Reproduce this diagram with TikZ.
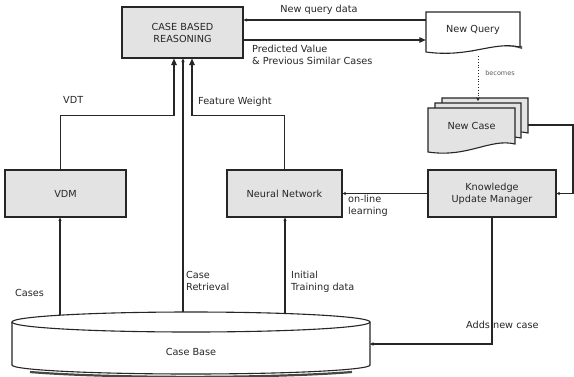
\documentclass[tikz,border=0pt]{standalone}
\usepackage{fontspec}
\setmainfont{DejaVu Sans}
\usetikzlibrary{arrows.meta,calc}
\definecolor{boxfill}{HTML}{E3E3E3}
\definecolor{ink}{HTML}{262626}
\begin{document}
\begin{tikzpicture}[x=1pt,y=-1pt,
  every node/.style={font=\fontsize{9.7}{12}\selectfont, text=ink},
  box/.style={draw=ink, line width=1.1pt, fill=boxfill, align=center, inner sep=0pt},
  ghost/.style={inner sep=0pt, align=center},
  link/.style={draw=ink, line width=1.1pt},
  bighead/.style={link, -{Triangle[length=6.5pt,width=5.5pt]}},
  smallhead/.style={link, -{Stealth[length=3.5pt,width=3.5pt]}},
  becomes/.style={draw=ink, line width=0.8pt, dotted, -{Stealth[length=3.5pt,width=3.5pt]}},
  lbl/.style={align=left, anchor=north west, inner sep=0pt},
]
\useasboundingbox (0,0) rectangle (574,376);
\fill[white] (0,0) rectangle (574,376);

% ---- process boxes
\node[box, minimum width=121pt, minimum height=51pt] (cbr) at (182.5,32.5) {CASE BASED\\REASONING};
\node[box, minimum width=121pt, minimum height=47pt] (vdm) at (65.5,193.5) {VDM};
\node[box, minimum width=115pt, minimum height=47pt] (nn) at (284.5,193.5) {Neural Network};
\node[box, minimum width=128pt, minimum height=47pt] (kum) at (492,193.5) {Knowledge\\Update Manager};

% ---- new query document with its shadow
\fill[ink!75] (470,52) .. controls (493,44) and (510,45) .. (522,49) -- (522,46) -- (500,44) -- cycle;
\filldraw[draw=ink, line width=1.1pt, fill=white] (426,12) -- (520,12) -- (520,47)
  .. controls (493,41) and (470,58) .. (426,52) -- cycle;
\node[ghost, minimum width=94pt, minimum height=41pt, text depth=7pt] (nq) at (473,32.5) {New Query};

% ---- new case document stack
\coordinate (ncback) at (485,98);
\filldraw[draw=ink, line width=1.1pt, fill=boxfill] (442,98) -- (528,98) -- (528,133)
  .. controls (505,128) and (485,140) .. (460,138) -- (442,138) -- cycle;
\filldraw[draw=ink, line width=1.1pt, fill=boxfill] (435,103) -- (521,103) -- (521,138)
  .. controls (498,133) and (478,146) .. (455,143) -- (435,143) -- cycle;
\filldraw[draw=ink, line width=1.1pt, fill=boxfill] (428,108) -- (515,108) -- (515,144)
  .. controls (490,138) and (468,158) .. (428,152) -- cycle;
\node[ghost, minimum width=87pt, minimum height=40pt, text depth=5pt] (nc) at (471.5,128) {New Case};

% ---- case base cylinder
\draw[ink!85, line width=2.2pt] (30,372) .. controls (110,378.5) and (270,378.5) .. (352,372);
\filldraw[draw=ink, line width=1.1pt, fill=white]
  (12,322) -- (12,365) arc[start angle=180, end angle=0, x radius=179, y radius=9] -- (370,322);
\draw[ink, line width=1.1pt] (191,322) ellipse[x radius=179, y radius=10];
\node[ghost, minimum width=358pt, minimum height=30pt] (cb) at (191,352) {Case Base};
\coordinate (cbA) at (60,315);
\coordinate (cbB) at (183,312);
\coordinate (cbC) at (285,313.5);
\coordinate (cbR) at (370,344);
\coordinate (bend) at (573,125);

% ---- connectors
\draw[smallhead] ([yshift=12.5pt]nq.west) -- ([yshift=12.5pt]nq.west -| cbr.east);
\draw[bighead] ([yshift=-7.5pt]cbr.east) -- ([yshift=-7.5pt]cbr.east -| nq.west);
\draw[becomes] ([xshift=5pt,yshift=-3pt]nq.south) -- ([xshift=5pt,yshift=-3pt]nq.south |- ncback);
\draw[smallhead] ([xshift=13pt,yshift=3pt]nc.east) -- (bend) |- (kum.east);
\draw[smallhead] (kum.west) -- (nn.east);
\draw[smallhead] (kum.south) |- (cbR);

\draw[bighead] ([xshift=-5pt]vdm.north) |- ($(cbr.south)+(-8.5,57)$) -- ([xshift=-8.5pt]cbr.south);
\draw[smallhead] (cbB) -- (cbB |- cbr.south);
\draw[bighead] (nn.north) |- ($(cbr.south)+(9.5,57)$) -- ([xshift=9.5pt]cbr.south);

\draw[smallhead] (cbA) -- (cbA |- vdm.south);
\draw[smallhead] (cbC) -- (cbC |- nn.south);

% ---- labels
\node[inner sep=0pt] (lq) at (319,10) {New query data};
\node[lbl] (lp) at (252,45) {Predicted Value\\\& Previous Similar Cases};
\node[inner sep=0pt, font=\fontsize{6.5}{7}\selectfont, text=ink!75] (lb) at (500,73) {becomes};
\node[lbl] (lv) at (63,96) {VDT};
\node[lbl] (lf) at (198,97) {Feature Weight};
\node[lbl] (lo) at (348,195) {on-line\\learning};
\node[lbl] (lc) at (15,289) {Cases};
\node[lbl] (lr) at (186,271) {Case\\Retrieval};
\node[lbl] (li) at (291,271) {Initial\\Training data};
\node[lbl] (la) at (466,321) {Adds new case};
\end{tikzpicture}
\end{document}
